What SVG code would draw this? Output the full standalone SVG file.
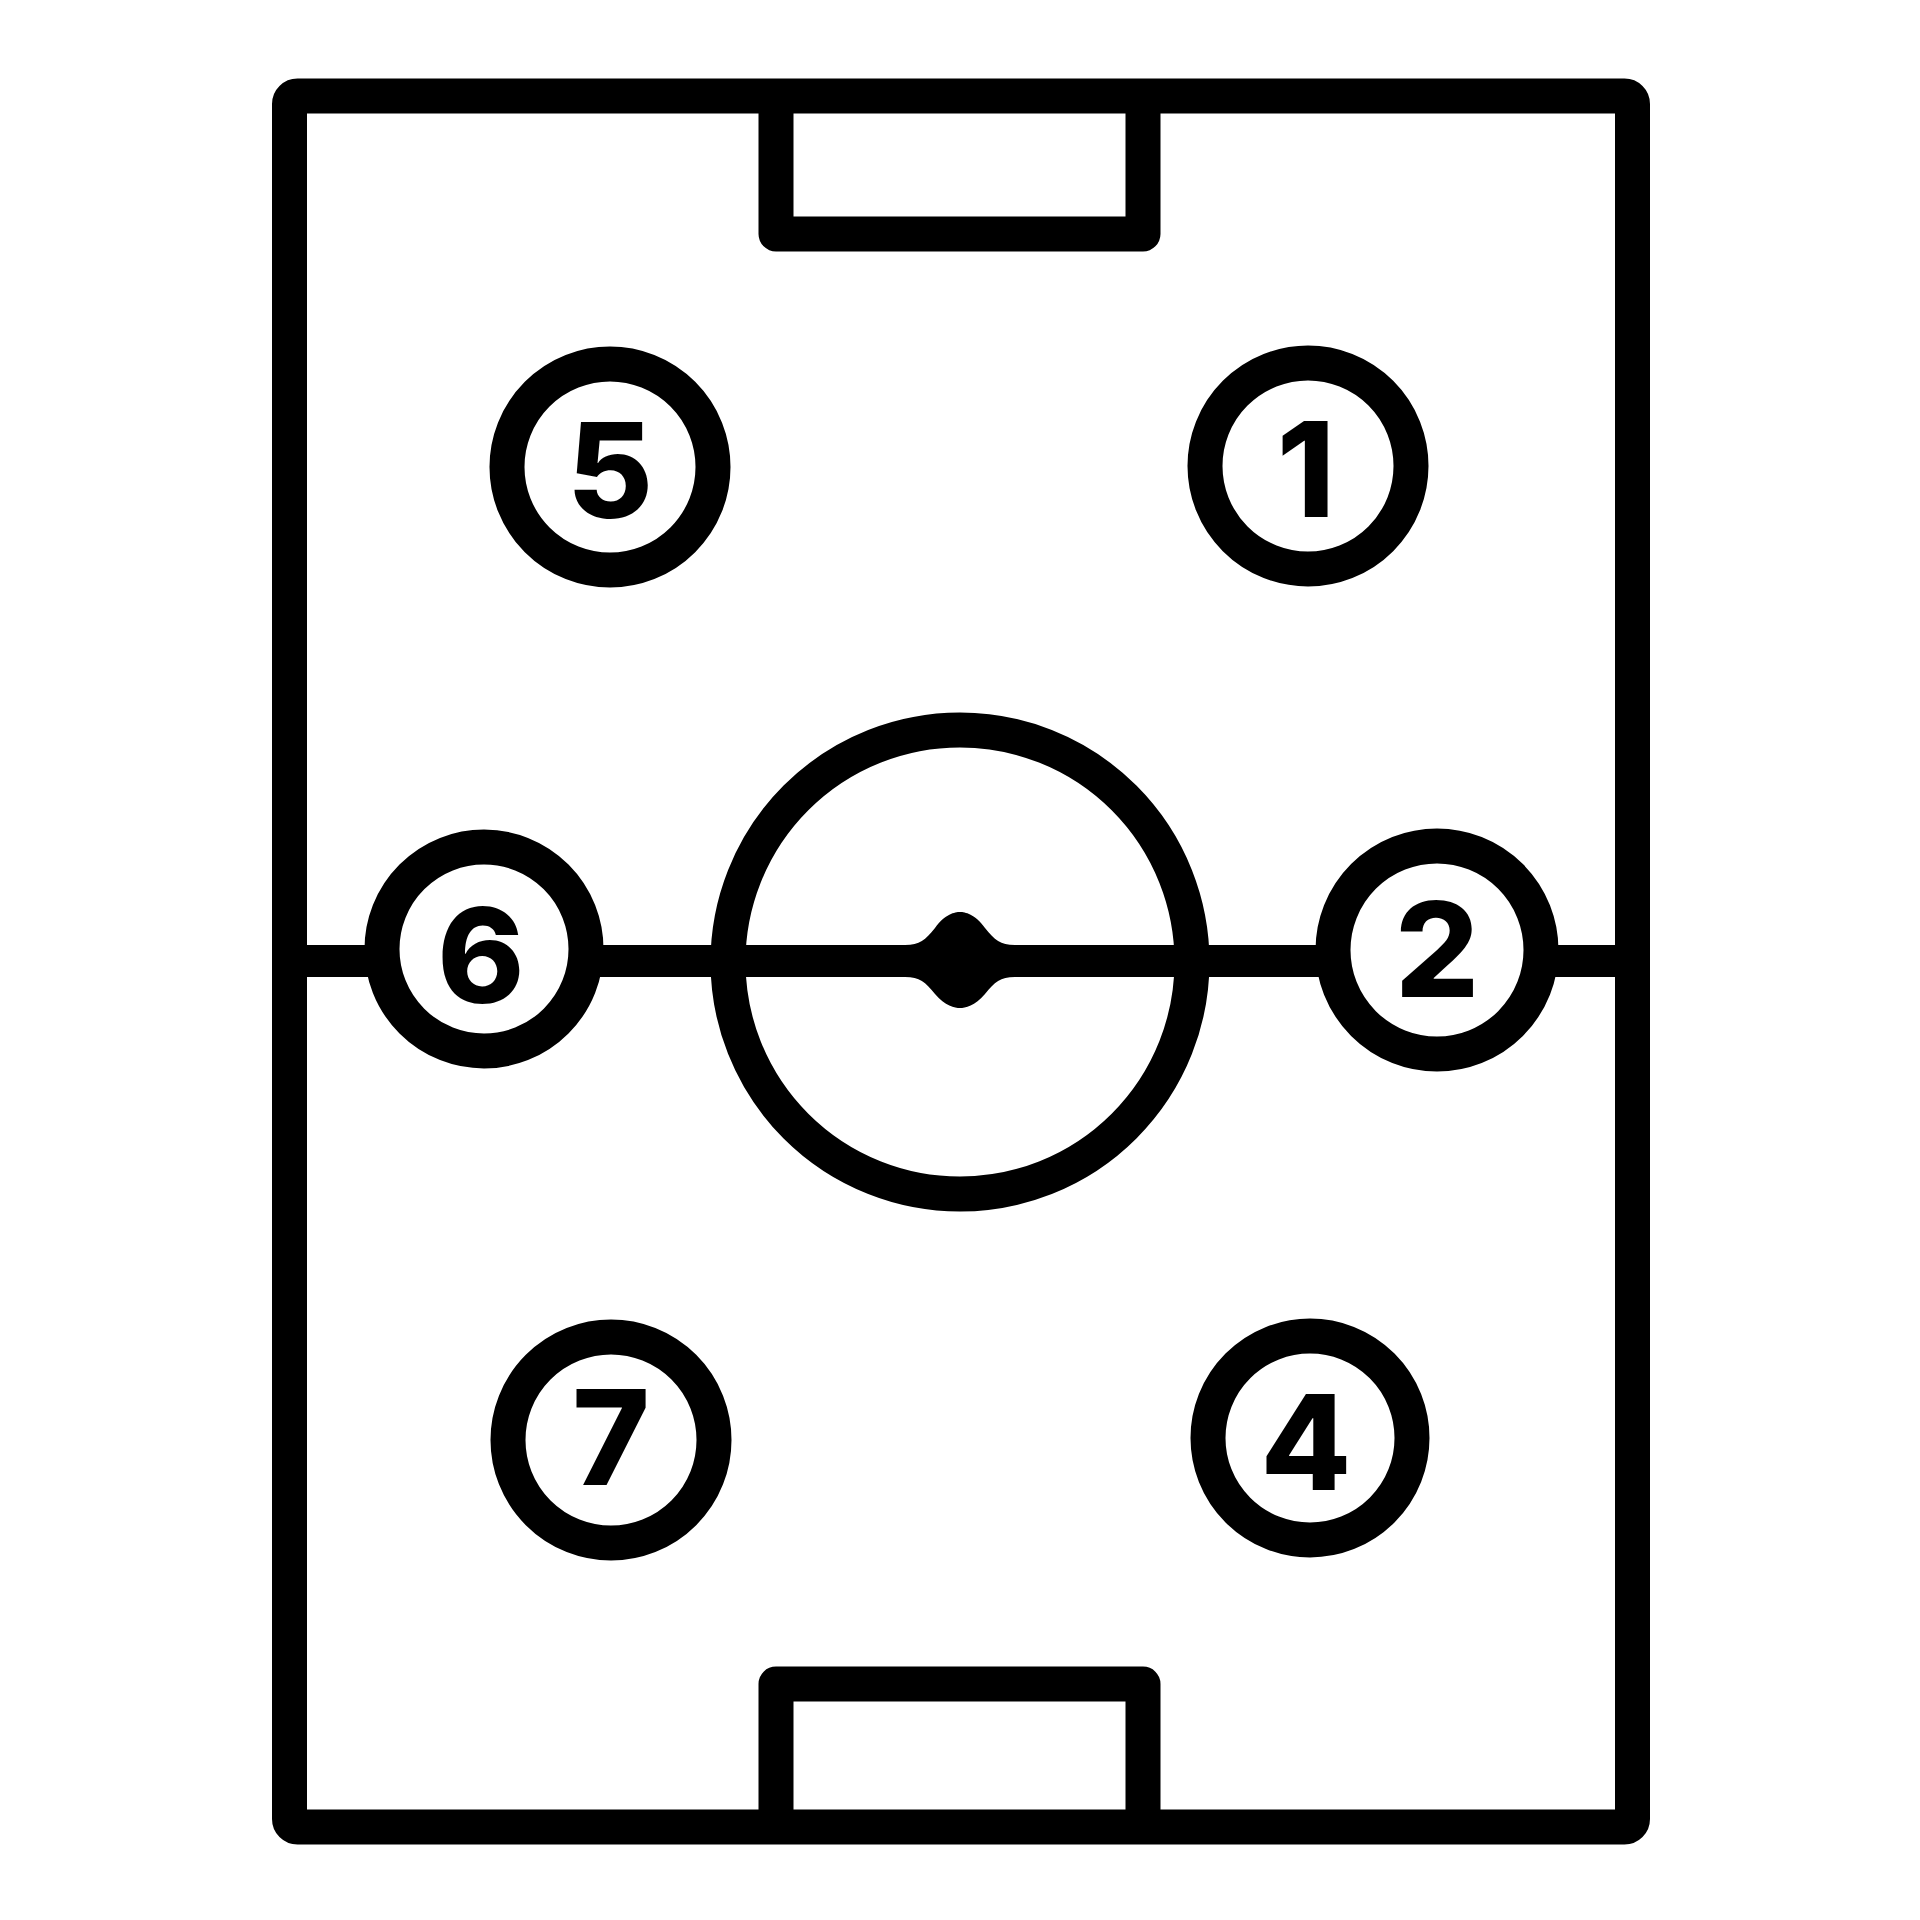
<svg xmlns="http://www.w3.org/2000/svg" width="1920" height="1920" viewBox="0 0 1920 1920">
<style>
.ln{fill:none;stroke:#000;stroke-width:35;stroke-linejoin:round;stroke-linecap:butt}
.pc{fill:#fff;stroke:#000;stroke-width:35}
.num{font-family:Inter,"Noto Sans","Liberation Sans",sans-serif;font-weight:800;font-size:132px;text-anchor:middle;fill:#000}
</style>
<rect width="1920" height="1920" fill="#fff"/>
<g id="field">
<rect class="ln" x="289.5" y="96" width="1343" height="1731" rx="8"/>
<path class="ln" d="M776 96 V234 H1143 V96"/>
<path class="ln" d="M776 1827 V1684 H1143 V1827"/>
<line x1="306" y1="961" x2="1615" y2="961" stroke="#000" stroke-width="32"/>
<circle class="ln" cx="960" cy="962" r="232"/>
<path id="center-spot" d="M905 945 C920 945 925 940 935 928 C945 914 955 912 960 912 C965 912 975 914 985 928 C995 940 1000 945 1015 945 L1015 977 C1000 977 995 982 985 994 C975 1006 965 1008 960 1008 C955 1008 945 1006 935 994 C925 982 920 977 905 977 Z" fill="#000"/>
</g>
<g id="connectors"></g>
<g id="player-5"><circle class="pc" cx="610" cy="467" r="103"/><text class="num" x="610" y="518">5</text></g>
<g id="player-1"><circle class="pc" cx="1308" cy="466" r="103"/><text class="num" x="1306" y="517">1</text></g>
<g id="player-6"><circle class="pc" cx="484" cy="949" r="102"/><text class="num" x="481" y="1003">6</text></g>
<g id="player-2"><circle class="pc" cx="1437" cy="950" r="104"/><text class="num" x="1437" y="997">2</text></g>
<g id="player-7"><circle class="pc" cx="611" cy="1440" r="103"/><text class="num" x="611" y="1485">7</text></g>
<g id="player-4"><circle class="pc" cx="1310" cy="1438" r="102"/><text class="num" x="1306" y="1490">4</text></g>
</svg>
